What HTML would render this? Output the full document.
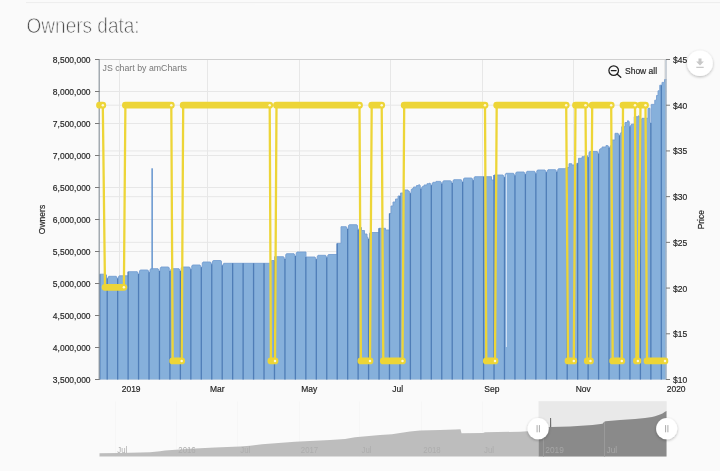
<!DOCTYPE html>
<html lang="en">
<head>
<meta charset="utf-8">
<title>Owners data</title>
<style>
html,body{margin:0;padding:0;background:#fafafa;}
body{width:720px;height:471px;overflow:hidden;position:relative;font-family:"Liberation Sans", sans-serif;}
</style>
</head>
<body>
<svg width="720" height="471" viewBox="0 0 720 471" style="position:absolute;left:0;top:0;display:block;will-change:transform;opacity:0.999">
<defs>
<filter id="sh" x="-40%" y="-40%" width="180%" height="180%"><feGaussianBlur in="SourceAlpha" stdDeviation="1.6"/><feOffset dx="0" dy="0.8"/><feComponentTransfer><feFuncA type="linear" slope="0.28"/></feComponentTransfer><feMerge><feMergeNode/><feMergeNode in="SourceGraphic"/></feMerge></filter>
<clipPath id="plot"><rect x="93.5" y="58.5" width="575.2" height="321.0"/></clipPath>
</defs>
<rect width="720" height="471" fill="#fafafa"/>
<rect x="26" y="2.4" width="694" height="1" fill="#e7e7e7"/>
<rect x="26" y="3.4" width="694" height="1" fill="#fdfdfd"/>
<text x="26.6" y="32.7" font-family='"Liberation Sans", sans-serif' font-size="22.6" fill="#505050" stroke="#fafafa" stroke-width="0.75" textLength="113" lengthAdjust="spacingAndGlyphs">Owners data:</text>
<path d="M99.5,59.5H666.5 M99.5,91.5H666.5 M99.5,123.5H666.5 M99.5,155.5H666.5 M99.5,187.5H666.5 M99.5,219.5H666.5 M99.5,251.5H666.5 M99.5,283.5H666.5 M99.5,315.5H666.5 M99.5,347.5H666.5 M99.5,379.5H666.5 M99.5,59.50H666.5 M99.5,105.21H666.5 M99.5,150.93H666.5 M99.5,196.64H666.5 M99.5,242.36H666.5 M99.5,288.07H666.5 M99.5,333.79H666.5 M99.5,379.50H666.5 M119.5,59.5V379.5 M207.5,59.5V379.5 M299.5,59.5V379.5 M390.5,59.5V379.5 M482.5,59.5V379.5 M573.5,59.5V379.5 M664.5,59.5V379.5" stroke="#e7e7e7" stroke-width="1" fill="none"/>
<path d="M99.5,59.5H666.5" stroke="#cfcfcf" stroke-width="1" fill="none"/>
<path d="M99.5,379.5 L99.50,274.2 L105.75,274.2 L105.75,275.0 L106.50,275.0 L106.50,278.6 L108.00,278.6 L108.00,277.1 L108.75,277.1 L108.75,276.3 L116.25,276.3 L116.25,277.1 L117.00,277.1 L117.00,278.6 L118.50,278.6 L118.50,276.6 L119.25,276.6 L119.25,275.8 L128.25,275.8 L128.25,271.7 L137.25,271.7 L137.25,272.5 L138.00,272.5 L138.00,274.0 L139.50,274.0 L139.50,270.8 L140.25,270.8 L140.25,270.0 L147.75,270.0 L147.75,270.8 L148.50,270.8 L148.50,272.3 L150.00,272.3 L150.00,269.5 L150.75,269.5 L150.75,268.7 L158.00,268.7 L158.00,269.5 L158.75,269.5 L158.75,271.0 L160.25,271.0 L160.25,267.8 L161.00,267.8 L161.00,267.0 L168.50,267.0 L168.50,267.8 L169.25,267.8 L169.25,271.0 L170.75,271.0 L170.75,269.5 L171.50,269.5 L171.50,268.7 L179.00,268.7 L179.00,269.5 L179.75,269.5 L179.75,271.0 L181.25,271.0 L181.25,267.8 L182.00,267.8 L182.00,267.0 L189.50,267.0 L189.50,267.8 L190.25,267.8 L190.25,269.3 L191.75,269.3 L191.75,265.8 L192.50,265.8 L192.50,265.0 L200.00,265.0 L200.00,265.8 L200.75,265.8 L200.75,267.3 L202.25,267.3 L202.25,262.8 L203.00,262.8 L203.00,262.0 L210.50,262.0 L210.50,262.8 L211.25,262.8 L211.25,264.3 L212.50,264.3 L212.50,261.3 L213.25,261.3 L213.25,260.5 L220.75,260.5 L220.75,261.3 L221.50,261.3 L221.50,265.6 L223.00,265.6 L223.00,264.1 L223.75,264.1 L223.75,263.3 L271.50,263.3 L271.50,260.5 L274.50,260.5 L274.50,256.7 L283.50,256.7 L283.50,257.5 L284.25,257.5 L284.25,259.0 L285.75,259.0 L285.75,254.5 L286.50,254.5 L286.50,253.7 L294.00,253.7 L294.00,254.5 L294.75,254.5 L294.75,256.0 L296.25,256.0 L296.25,252.8 L297.00,252.8 L297.00,252.0 L306.00,252.0 L306.00,257.0 L315.00,257.0 L315.00,257.8 L315.75,257.8 L315.75,259.3 L317.25,259.3 L317.25,256.1 L318.00,256.1 L318.00,255.3 L325.50,255.3 L325.50,256.1 L326.25,256.1 L326.25,257.6 L327.50,257.6 L327.50,256.8 L327.75,256.8 L327.75,255.3 L328.50,255.3 L328.50,254.5 L337.00,254.5 L337.00,243.4 L341.00,243.4 L341.00,226.7 L346.25,226.7 L346.25,227.5 L347.00,227.5 L347.00,229.0 L348.50,229.0 L348.50,225.5 L349.25,225.5 L349.25,224.7 L356.75,224.7 L356.75,225.5 L357.50,225.5 L357.50,229.8 L359.00,229.8 L359.00,228.3 L359.75,228.3 L359.75,227.5 L361.50,227.5 L361.50,230.5 L364.50,230.5 L364.50,234.0 L367.00,234.0 L367.00,236.7 L367.25,236.7 L367.25,237.5 L368.00,237.5 L368.00,239.0 L369.50,239.0 L369.50,233.3 L370.25,233.3 L370.25,232.5 L379.00,232.5 L379.00,228.3 L385.50,228.3 L385.50,230.0 L389.50,230.0 L389.50,213.5 L391.00,213.5 L391.00,206.0 L393.00,206.0 L393.00,202.0 L395.50,202.0 L395.50,199.0 L398.00,199.0 L398.00,196.0 L400.50,196.0 L400.50,193.0 L404.00,193.0 L404.00,190.0 L408.00,190.0 L408.00,190.9 L409.00,190.9 L409.00,191.7 L409.75,191.7 L409.75,193.2 L411.25,193.2 L411.25,189.5 L412.00,189.5 L412.00,188.7 L413.50,188.7 L413.50,187.0 L416.50,187.0 L416.50,185.5 L418.75,185.5 L418.75,184.7 L419.50,184.7 L419.50,185.5 L420.25,185.5 L420.25,188.7 L421.75,188.7 L421.75,187.2 L422.50,187.2 L422.50,186.4 L424.00,186.4 L424.00,185.0 L427.00,185.0 L427.00,183.7 L429.50,183.7 L429.50,183.0 L430.00,183.0 L430.00,183.8 L430.75,183.8 L430.75,185.3 L432.00,185.3 L432.00,184.6 L432.25,184.6 L432.25,183.1 L433.00,183.1 L433.00,182.3 L436.00,182.3 L436.00,181.4 L440.50,181.4 L440.50,182.2 L441.25,182.2 L441.25,183.7 L442.50,183.7 L442.50,183.1 L442.75,183.1 L442.75,181.6 L443.50,181.6 L443.50,180.8 L450.75,180.8 L450.75,181.6 L451.50,181.6 L451.50,183.1 L453.00,183.1 L453.00,180.5 L453.75,180.5 L453.75,179.7 L461.25,179.7 L461.25,180.5 L462.00,180.5 L462.00,182.0 L463.50,182.0 L463.50,178.8 L464.25,178.8 L464.25,178.0 L471.75,178.0 L471.75,178.8 L472.50,178.8 L472.50,180.3 L474.00,180.3 L474.00,177.5 L474.75,177.5 L474.75,176.7 L491.50,176.7 L491.50,180.0 L494.00,180.0 L494.00,175.0 L503.00,175.0 L503.00,175.8 L503.75,175.8 L503.75,177.3 L505.25,177.3 L505.25,174.1 L506.00,174.1 L506.00,173.3 L513.50,173.3 L513.50,174.1 L514.25,174.1 L514.25,175.6 L515.75,175.6 L515.75,172.8 L516.50,172.8 L516.50,172.0 L524.00,172.0 L524.00,172.8 L524.75,172.8 L524.75,174.3 L526.25,174.3 L526.25,172.1 L527.00,172.1 L527.00,171.3 L534.50,171.3 L534.50,172.1 L535.25,172.1 L535.25,173.6 L536.75,173.6 L536.75,170.8 L537.50,170.8 L537.50,170.0 L545.00,170.0 L545.00,170.8 L545.75,170.8 L545.75,172.3 L547.00,172.3 L547.00,172.0 L547.25,172.0 L547.25,170.5 L548.00,170.5 L548.00,169.7 L555.50,169.7 L555.50,170.5 L556.25,170.5 L556.25,172.0 L557.50,172.0 L557.50,171.0 L557.75,171.0 L557.75,169.5 L558.50,169.5 L558.50,168.7 L566.00,168.7 L566.00,167.5 L569.00,167.5 L569.00,163.7 L571.75,163.7 L571.75,165.0 L576.75,165.0 L576.75,163.3 L578.50,163.3 L578.50,158.3 L582.00,158.3 L582.00,156.7 L585.00,156.7 L585.00,155.0 L586.75,155.0 L586.75,155.8 L587.50,155.8 L587.50,157.3 L589.00,157.3 L589.00,152.3 L589.75,152.3 L589.75,151.5 L597.25,151.5 L597.25,152.3 L598.00,152.3 L598.00,153.8 L599.25,153.8 L599.25,151.0 L599.50,151.0 L599.50,149.5 L600.25,149.5 L600.25,148.7 L602.00,148.7 L602.00,147.0 L606.00,147.0 L606.00,145.5 L607.75,145.5 L607.75,146.3 L608.50,146.3 L608.50,147.8 L610.00,147.8 L610.00,146.3 L610.75,146.3 L610.75,145.5 L611.75,145.5 L611.75,140.0 L615.00,140.0 L615.00,133.3 L618.00,133.3 L618.00,134.1 L618.75,134.1 L618.75,135.6 L620.00,135.6 L620.00,134.8 L620.25,134.8 L620.25,133.3 L621.00,133.3 L621.00,132.5 L621.75,132.5 L621.75,126.7 L625.00,126.7 L625.00,122.5 L627.50,122.5 L627.50,120.8 L628.50,120.8 L628.50,121.6 L629.25,121.6 L629.25,126.5 L630.75,126.5 L630.75,125.0 L631.50,125.0 L631.50,124.2 L634.25,124.2 L634.25,116.7 L638.50,116.7 L638.50,115.8 L639.00,115.8 L639.00,116.6 L639.75,116.6 L639.75,118.1 L640.00,118.1 L640.00,120.6 L641.25,120.6 L641.25,119.1 L642.00,119.1 L642.00,118.3 L648.00,118.3 L648.00,108.3 L650.00,108.3 L650.00,123.0 L651.25,123.0 L651.25,104.4 L654.75,104.4 L654.75,100.2 L656.50,100.2 L656.50,95.5 L658.00,95.5 L658.00,90.8 L659.75,90.8 L659.75,85.2 L662.00,85.2 L662.00,82.4 L664.50,82.4 L664.50,79.6 L666.50,79.6 L666.5,379.5 Z" fill="#86b0db"/>
<path d="M99.50,274.2 L105.75,274.2 L105.75,275.0 L106.50,275.0 L106.50,278.6 L108.00,278.6 L108.00,277.1 L108.75,277.1 L108.75,276.3 L116.25,276.3 L116.25,277.1 L117.00,277.1 L117.00,278.6 L118.50,278.6 L118.50,276.6 L119.25,276.6 L119.25,275.8 L128.25,275.8 L128.25,271.7 L137.25,271.7 L137.25,272.5 L138.00,272.5 L138.00,274.0 L139.50,274.0 L139.50,270.8 L140.25,270.8 L140.25,270.0 L147.75,270.0 L147.75,270.8 L148.50,270.8 L148.50,272.3 L150.00,272.3 L150.00,269.5 L150.75,269.5 L150.75,268.7 L158.00,268.7 L158.00,269.5 L158.75,269.5 L158.75,271.0 L160.25,271.0 L160.25,267.8 L161.00,267.8 L161.00,267.0 L168.50,267.0 L168.50,267.8 L169.25,267.8 L169.25,271.0 L170.75,271.0 L170.75,269.5 L171.50,269.5 L171.50,268.7 L179.00,268.7 L179.00,269.5 L179.75,269.5 L179.75,271.0 L181.25,271.0 L181.25,267.8 L182.00,267.8 L182.00,267.0 L189.50,267.0 L189.50,267.8 L190.25,267.8 L190.25,269.3 L191.75,269.3 L191.75,265.8 L192.50,265.8 L192.50,265.0 L200.00,265.0 L200.00,265.8 L200.75,265.8 L200.75,267.3 L202.25,267.3 L202.25,262.8 L203.00,262.8 L203.00,262.0 L210.50,262.0 L210.50,262.8 L211.25,262.8 L211.25,264.3 L212.50,264.3 L212.50,261.3 L213.25,261.3 L213.25,260.5 L220.75,260.5 L220.75,261.3 L221.50,261.3 L221.50,265.6 L223.00,265.6 L223.00,264.1 L223.75,264.1 L223.75,263.3 L271.50,263.3 L271.50,260.5 L274.50,260.5 L274.50,256.7 L283.50,256.7 L283.50,257.5 L284.25,257.5 L284.25,259.0 L285.75,259.0 L285.75,254.5 L286.50,254.5 L286.50,253.7 L294.00,253.7 L294.00,254.5 L294.75,254.5 L294.75,256.0 L296.25,256.0 L296.25,252.8 L297.00,252.8 L297.00,252.0 L306.00,252.0 L306.00,257.0 L315.00,257.0 L315.00,257.8 L315.75,257.8 L315.75,259.3 L317.25,259.3 L317.25,256.1 L318.00,256.1 L318.00,255.3 L325.50,255.3 L325.50,256.1 L326.25,256.1 L326.25,257.6 L327.50,257.6 L327.50,256.8 L327.75,256.8 L327.75,255.3 L328.50,255.3 L328.50,254.5 L337.00,254.5 L337.00,243.4 L341.00,243.4 L341.00,226.7 L346.25,226.7 L346.25,227.5 L347.00,227.5 L347.00,229.0 L348.50,229.0 L348.50,225.5 L349.25,225.5 L349.25,224.7 L356.75,224.7 L356.75,225.5 L357.50,225.5 L357.50,229.8 L359.00,229.8 L359.00,228.3 L359.75,228.3 L359.75,227.5 L361.50,227.5 L361.50,230.5 L364.50,230.5 L364.50,234.0 L367.00,234.0 L367.00,236.7 L367.25,236.7 L367.25,237.5 L368.00,237.5 L368.00,239.0 L369.50,239.0 L369.50,233.3 L370.25,233.3 L370.25,232.5 L379.00,232.5 L379.00,228.3 L385.50,228.3 L385.50,230.0 L389.50,230.0 L389.50,213.5 L391.00,213.5 L391.00,206.0 L393.00,206.0 L393.00,202.0 L395.50,202.0 L395.50,199.0 L398.00,199.0 L398.00,196.0 L400.50,196.0 L400.50,193.0 L404.00,193.0 L404.00,190.0 L408.00,190.0 L408.00,190.9 L409.00,190.9 L409.00,191.7 L409.75,191.7 L409.75,193.2 L411.25,193.2 L411.25,189.5 L412.00,189.5 L412.00,188.7 L413.50,188.7 L413.50,187.0 L416.50,187.0 L416.50,185.5 L418.75,185.5 L418.75,184.7 L419.50,184.7 L419.50,185.5 L420.25,185.5 L420.25,188.7 L421.75,188.7 L421.75,187.2 L422.50,187.2 L422.50,186.4 L424.00,186.4 L424.00,185.0 L427.00,185.0 L427.00,183.7 L429.50,183.7 L429.50,183.0 L430.00,183.0 L430.00,183.8 L430.75,183.8 L430.75,185.3 L432.00,185.3 L432.00,184.6 L432.25,184.6 L432.25,183.1 L433.00,183.1 L433.00,182.3 L436.00,182.3 L436.00,181.4 L440.50,181.4 L440.50,182.2 L441.25,182.2 L441.25,183.7 L442.50,183.7 L442.50,183.1 L442.75,183.1 L442.75,181.6 L443.50,181.6 L443.50,180.8 L450.75,180.8 L450.75,181.6 L451.50,181.6 L451.50,183.1 L453.00,183.1 L453.00,180.5 L453.75,180.5 L453.75,179.7 L461.25,179.7 L461.25,180.5 L462.00,180.5 L462.00,182.0 L463.50,182.0 L463.50,178.8 L464.25,178.8 L464.25,178.0 L471.75,178.0 L471.75,178.8 L472.50,178.8 L472.50,180.3 L474.00,180.3 L474.00,177.5 L474.75,177.5 L474.75,176.7 L491.50,176.7 L491.50,180.0 L494.00,180.0 L494.00,175.0 L503.00,175.0 L503.00,175.8 L503.75,175.8 L503.75,177.3 L505.25,177.3 L505.25,174.1 L506.00,174.1 L506.00,173.3 L513.50,173.3 L513.50,174.1 L514.25,174.1 L514.25,175.6 L515.75,175.6 L515.75,172.8 L516.50,172.8 L516.50,172.0 L524.00,172.0 L524.00,172.8 L524.75,172.8 L524.75,174.3 L526.25,174.3 L526.25,172.1 L527.00,172.1 L527.00,171.3 L534.50,171.3 L534.50,172.1 L535.25,172.1 L535.25,173.6 L536.75,173.6 L536.75,170.8 L537.50,170.8 L537.50,170.0 L545.00,170.0 L545.00,170.8 L545.75,170.8 L545.75,172.3 L547.00,172.3 L547.00,172.0 L547.25,172.0 L547.25,170.5 L548.00,170.5 L548.00,169.7 L555.50,169.7 L555.50,170.5 L556.25,170.5 L556.25,172.0 L557.50,172.0 L557.50,171.0 L557.75,171.0 L557.75,169.5 L558.50,169.5 L558.50,168.7 L566.00,168.7 L566.00,167.5 L569.00,167.5 L569.00,163.7 L571.75,163.7 L571.75,165.0 L576.75,165.0 L576.75,163.3 L578.50,163.3 L578.50,158.3 L582.00,158.3 L582.00,156.7 L585.00,156.7 L585.00,155.0 L586.75,155.0 L586.75,155.8 L587.50,155.8 L587.50,157.3 L589.00,157.3 L589.00,152.3 L589.75,152.3 L589.75,151.5 L597.25,151.5 L597.25,152.3 L598.00,152.3 L598.00,153.8 L599.25,153.8 L599.25,151.0 L599.50,151.0 L599.50,149.5 L600.25,149.5 L600.25,148.7 L602.00,148.7 L602.00,147.0 L606.00,147.0 L606.00,145.5 L607.75,145.5 L607.75,146.3 L608.50,146.3 L608.50,147.8 L610.00,147.8 L610.00,146.3 L610.75,146.3 L610.75,145.5 L611.75,145.5 L611.75,140.0 L615.00,140.0 L615.00,133.3 L618.00,133.3 L618.00,134.1 L618.75,134.1 L618.75,135.6 L620.00,135.6 L620.00,134.8 L620.25,134.8 L620.25,133.3 L621.00,133.3 L621.00,132.5 L621.75,132.5 L621.75,126.7 L625.00,126.7 L625.00,122.5 L627.50,122.5 L627.50,120.8 L628.50,120.8 L628.50,121.6 L629.25,121.6 L629.25,126.5 L630.75,126.5 L630.75,125.0 L631.50,125.0 L631.50,124.2 L634.25,124.2 L634.25,116.7 L638.50,116.7 L638.50,115.8 L639.00,115.8 L639.00,116.6 L639.75,116.6 L639.75,118.1 L640.00,118.1 L640.00,120.6 L641.25,120.6 L641.25,119.1 L642.00,119.1 L642.00,118.3 L648.00,118.3 L648.00,108.3 L650.00,108.3 L650.00,123.0 L651.25,123.0 L651.25,104.4 L654.75,104.4 L654.75,100.2 L656.50,100.2 L656.50,95.5 L658.00,95.5 L658.00,90.8 L659.75,90.8 L659.75,85.2 L662.00,85.2 L662.00,82.4 L664.50,82.4 L664.50,79.6 L666.50,79.6" fill="none" stroke="#769fd2" stroke-width="0.9" stroke-linejoin="round"/>
<rect x="151.35" y="168.3" width="1.6" height="101" fill="#6e9bd1"/>
<path d="M99.80,274.2V379.5 M107.20,278.6V379.5 M117.66,278.6V379.5 M128.11,271.7V379.5 M138.56,274.0V379.5 M149.02,272.3V379.5 M159.47,271.0V379.5 M169.93,271.0V379.5 M180.38,271.0V379.5 M190.84,269.3V379.5 M201.30,267.3V379.5 M211.75,264.3V379.5 M222.20,265.6V379.5 M232.66,263.3V379.5 M243.12,263.3V379.5 M253.57,263.3V379.5 M264.02,263.3V379.5 M274.48,260.5V379.5 M284.94,259.0V379.5 M295.39,256.0V379.5 M305.85,257.0V379.5 M316.30,259.3V379.5 M326.75,257.6V379.5 M337.21,243.4V379.5 M347.67,229.0V379.5 M358.12,229.8V379.5 M368.57,239.0V379.5 M379.03,228.3V379.5 M389.49,213.5V379.5 M399.94,196.0V379.5 M410.39,193.2V379.5 M420.85,188.7V379.5 M431.31,185.3V379.5 M441.76,183.7V379.5 M452.21,183.1V379.5 M462.67,182.0V379.5 M473.12,180.3V379.5 M483.58,176.7V379.5 M494.03,175.0V379.5 M504.49,177.3V379.5 M514.95,175.6V379.5 M525.40,174.3V379.5 M535.86,173.6V379.5 M546.31,172.3V379.5 M556.76,172.0V379.5 M567.22,167.5V379.5 M577.68,163.3V379.5 M588.13,157.3V379.5 M598.59,153.8V379.5 M609.04,147.8V379.5 M619.50,135.6V379.5 M629.95,126.5V379.5 M640.41,120.6V379.5 M650.86,123.0V379.5 M661.32,85.2V379.5" stroke="#4f7db7" stroke-width="1.3" fill="none"/>
<rect x="505.9" y="174.5" width="1.1" height="172.5" fill="#cfe0f3"/>
<path d="M99.2,59.5V380.0" stroke="#8e979f" stroke-width="1.2" fill="none"/>
<path d="M666.0,59.5V380.0" stroke="#a9b4c0" stroke-width="1.2" fill="none"/>
<path d="M95.0,59.5H99.5 M95.0,91.5H99.5 M95.0,123.5H99.5 M95.0,155.5H99.5 M95.0,187.5H99.5 M95.0,219.5H99.5 M95.0,251.5H99.5 M95.0,283.5H99.5 M95.0,315.5H99.5 M95.0,347.5H99.5 M95.0,379.5H99.5 M666.0,59.50H670.0 M666.0,105.21H670.0 M666.0,150.93H670.0 M666.0,196.64H670.0 M666.0,242.36H670.0 M666.0,288.07H670.0 M666.0,333.79H670.0 M666.0,379.50H670.0" stroke="#7a7a7a" stroke-width="1" fill="none"/>
<g clip-path="url(#plot)">
<polyline points="99.5,105.2 102.8,105.2 105.0,287.3 123.9,287.3 125.4,105.2 171.3,105.2 172.7,360.9 181.7,360.9 183.2,105.2 269.7,105.2 270.9,360.9 275.0,360.9 276.5,105.2 359.5,105.2 360.9,360.9 370.0,360.9 371.7,105.2 381.7,105.2 383.3,360.9 402.5,360.9 404.2,105.2 485.0,105.2 486.3,360.9 495.0,360.9 496.7,105.2 566.2,105.2 568.0,360.9 573.8,360.9 575.5,105.2 585.5,105.2 587.3,360.9 590.5,360.9 592.2,105.2 611.2,105.2 612.7,360.9 621.8,360.9 623.0,105.2 635.0,105.2 636.4,360.9 637.9,360.9 640.5,105.2 645.5,105.2 647.0,360.9 665.0,360.9" fill="none" stroke="#edd537" stroke-width="2.3" stroke-linejoin="round"/>
<path d="M99.5,105.2H102.81 M105.0,287.3H123.91000000000001 M125.4,105.2H171.31 M172.7,360.9H181.70999999999998 M183.2,105.2H269.71 M270.9,360.9H275.01 M276.5,105.2H359.51 M360.9,360.9H370.01 M371.7,105.2H381.71 M383.3,360.9H402.51 M404.2,105.2H485.01 M486.3,360.9H495.01 M496.7,105.2H566.21 M568.0,360.9H573.81 M575.5,105.2H585.51 M587.3,360.9H590.51 M592.2,105.2H611.21 M612.7,360.9H621.81 M623.0,105.2H635.01 M636.4,360.9H637.91 M640.5,105.2H645.51 M647.0,360.9H665.01" fill="none" stroke="#edd537" stroke-width="6.8" stroke-linecap="round"/>
<circle cx="102.8" cy="105.2" r="1.25" fill="#fff8d6"/>
<circle cx="123.9" cy="287.3" r="1.25" fill="#fff8d6"/>
<circle cx="171.3" cy="105.2" r="1.25" fill="#fff8d6"/>
<circle cx="181.7" cy="360.9" r="1.25" fill="#fff8d6"/>
<circle cx="269.7" cy="105.2" r="1.25" fill="#fff8d6"/>
<circle cx="275.0" cy="360.9" r="1.25" fill="#fff8d6"/>
<circle cx="359.5" cy="105.2" r="1.25" fill="#fff8d6"/>
<circle cx="370.0" cy="360.9" r="1.25" fill="#fff8d6"/>
<circle cx="381.7" cy="105.2" r="1.25" fill="#fff8d6"/>
<circle cx="402.5" cy="360.9" r="1.25" fill="#fff8d6"/>
<circle cx="485.0" cy="105.2" r="1.25" fill="#fff8d6"/>
<circle cx="495.0" cy="360.9" r="1.25" fill="#fff8d6"/>
<circle cx="566.2" cy="105.2" r="1.25" fill="#fff8d6"/>
<circle cx="573.8" cy="360.9" r="1.25" fill="#fff8d6"/>
<circle cx="585.5" cy="105.2" r="1.25" fill="#fff8d6"/>
<circle cx="590.5" cy="360.9" r="1.25" fill="#fff8d6"/>
<circle cx="611.2" cy="105.2" r="1.25" fill="#fff8d6"/>
<circle cx="621.8" cy="360.9" r="1.25" fill="#fff8d6"/>
<circle cx="635.0" cy="105.2" r="1.25" fill="#fff8d6"/>
<circle cx="637.9" cy="360.9" r="1.25" fill="#fff8d6"/>
<circle cx="645.5" cy="105.2" r="1.25" fill="#fff8d6"/>
<circle cx="665.0" cy="360.9" r="1.25" fill="#fff8d6"/>
</g>
<g font-family='"Liberation Sans", sans-serif' font-size="8.9" fill="#262626" stroke="#262626" stroke-width="0.18">
<text transform="translate(90.6,62.8) scale(0.955,1.06)" text-anchor="end">8,500,000</text>
<text transform="translate(90.6,94.8) scale(0.955,1.06)" text-anchor="end">8,000,000</text>
<text transform="translate(90.6,126.8) scale(0.955,1.06)" text-anchor="end">7,500,000</text>
<text transform="translate(90.6,158.8) scale(0.955,1.06)" text-anchor="end">7,000,000</text>
<text transform="translate(90.6,190.8) scale(0.955,1.06)" text-anchor="end">6,500,000</text>
<text transform="translate(90.6,222.8) scale(0.955,1.06)" text-anchor="end">6,000,000</text>
<text transform="translate(90.6,254.8) scale(0.955,1.06)" text-anchor="end">5,500,000</text>
<text transform="translate(90.6,286.8) scale(0.955,1.06)" text-anchor="end">5,000,000</text>
<text transform="translate(90.6,318.8) scale(0.955,1.06)" text-anchor="end">4,500,000</text>
<text transform="translate(90.6,350.8) scale(0.955,1.06)" text-anchor="end">4,000,000</text>
<text transform="translate(90.6,382.8) scale(0.955,1.06)" text-anchor="end">3,500,000</text>
<text transform="translate(673,62.9) scale(0.955,1.06)">$45</text>
<text transform="translate(673,108.6) scale(0.955,1.06)">$40</text>
<text transform="translate(673,154.3) scale(0.955,1.06)">$35</text>
<text transform="translate(673,200.0) scale(0.955,1.06)">$30</text>
<text transform="translate(673,245.8) scale(0.955,1.06)">$25</text>
<text transform="translate(673,291.5) scale(0.955,1.06)">$20</text>
<text transform="translate(673,337.2) scale(0.955,1.06)">$15</text>
<text transform="translate(673,382.9) scale(0.955,1.06)">$10</text>
<text transform="translate(121.7,392.2) scale(0.955,1.06)">2019</text>
<text transform="translate(210,392.2) scale(0.955,1.06)">Mar</text>
<text transform="translate(301.2,392.2) scale(0.955,1.06)">May</text>
<text transform="translate(392.3,392.2) scale(0.955,1.06)">Jul</text>
<text transform="translate(484.3,392.2) scale(0.955,1.06)">Sep</text>
<text transform="translate(575.7,392.2) scale(0.955,1.06)">Nov</text>
<text transform="translate(666.7,392.2) scale(0.955,1.06)">2020</text>
<text transform="translate(45.3,219.5) rotate(-90) scale(0.955,1.06)" text-anchor="middle">Owners</text>
<text transform="translate(704.0,219.7) rotate(-90) scale(0.955,1.06)" text-anchor="middle">Price</text>
<text transform="translate(625,74.1) scale(0.955,1.06)">Show all</text>
</g>
<text x="102.5" y="71.3" font-family='"Liberation Sans", sans-serif' font-size="9" fill="#777777" textLength="84.5" lengthAdjust="spacingAndGlyphs">JS chart by amCharts</text>
<g fill="none" stroke="#1f1f1f" stroke-width="1.25" stroke-linecap="round"><circle cx="613.7" cy="70.6" r="4.8"/><path d="M617.3,74.2L620.8,77.3"/><path d="M611.3,70.6H616.1"/></g>
<circle cx="700" cy="63.3" r="12.8" fill="#ffffff" filter="url(#sh)"/>
<path d="M698.5,58.5h3v3.1h2.4l-3.9,3.8l-3.9,-3.8h2.4z M696.3,66.8h7.4v1.1h-7.4z" fill="#c8c8c8"/>
<rect x="538.5" y="401.2" width="128.2" height="55.4" fill="#e9e9e9"/>
<path d="M115.5,401.5V456.6 M176.5,401.5V456.6 M237.5,401.5V456.6 M299.5,401.5V456.6 M359.5,401.5V456.6 M421.5,401.5V456.6 M482.5,401.5V456.6" stroke="#f6f6f6" stroke-width="1" fill="none"/>
<path d="M99.5,456.6 L99.5,453.3 L120,453.0 L150,452.3 L160,451.3 L165,450.5 L190,448.8 L215,447.6 L240,446.5 L250,445.7 L262,444.3 L295,441.7 L330,439.9 L345,439.0 L355,437.2 L380,435.0 L392,434.2 L400,433.0 L410,431.6 L420,430.6 L440,429.9 L455,429.4 L460.5,429.2 L461.5,433.2 L483,433.0 L485,432.3 L520,431.7 L538.5,430.6 L538.5,456.6 Z" fill="#bdbdbd"/>
<path d="M538.5,456.6 L538.5,430.6 L543,430.0 L545,427.4 L550,427.0 L550.2,418.0 L551.0,418.0 L551.2,427.0 L570,426.5 L585,425.6 L592.5,425.0 L602.5,423.8 L604,422.0 L605.5,421.2 L620,420.0 L635,418.9 L645,418.0 L652,416.9 L655,416.2 L660,414.6 L662.5,413.6 L665,411.8 L666.5,411.0 L666.5,456.6 Z" fill="#8a8a8a"/>
<rect x="550.1" y="418" width="1" height="9.2" fill="#6c6c6c"/>
<path d="M543.5,430V456.6 M604.5,422V456.6" stroke="#9a9a9a" stroke-width="1" fill="none"/>
<g font-family='"Liberation Sans", sans-serif' font-size="8.7" fill="#adadad">
<text transform="translate(117.3,452.8) scale(0.9,1.02)">Jul</text>
<text transform="translate(178.3,452.8) scale(0.9,1.02)">2016</text>
<text transform="translate(240.3,452.8) scale(0.9,1.02)">Jul</text>
<text transform="translate(300.8,452.8) scale(0.9,1.02)">2017</text>
<text transform="translate(361.5,452.8) scale(0.9,1.02)">Jul</text>
<text transform="translate(423.3,452.8) scale(0.9,1.02)">2018</text>
<text transform="translate(484,452.8) scale(0.9,1.02)">Jul</text>
</g>
<g font-family='"Liberation Sans", sans-serif' font-size="8.7" fill="#a6a6a6">
<text transform="translate(545.3,452.8) scale(0.96,1.02)">2019</text>
<text transform="translate(606.5,452.8) scale(0.96,1.02)">Jul</text>
</g>
<circle cx="538.2" cy="428.7" r="10.6" fill="#ffffff" filter="url(#sh)"/>
<path d="M537.1,425.1v7.2 M539.4,425.1v7.2" stroke="#ababab" stroke-width="1" fill="none"/>
<circle cx="666.7" cy="428.7" r="10.6" fill="#ffffff" filter="url(#sh)"/>
<path d="M665.6,425.1v7.2 M667.9,425.1v7.2" stroke="#ababab" stroke-width="1" fill="none"/>
</svg>
</body>
</html>
